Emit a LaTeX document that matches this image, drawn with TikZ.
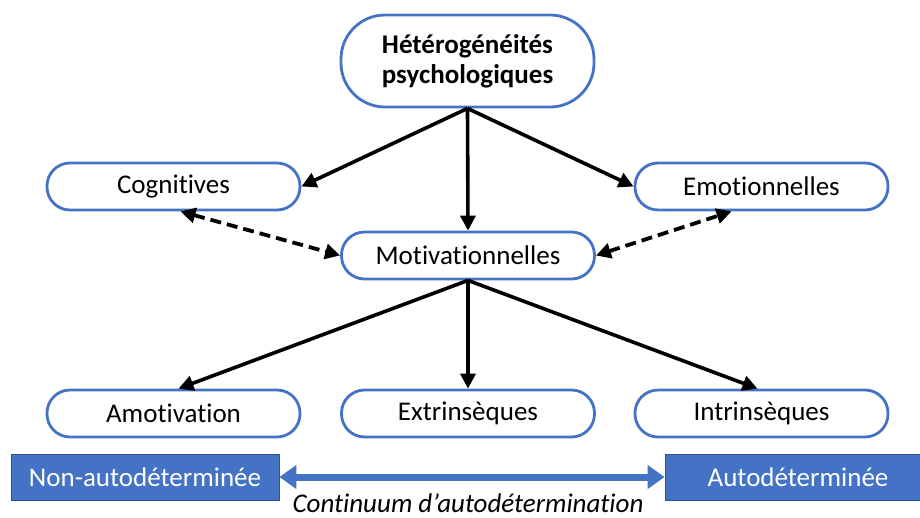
\documentclass[tikz,border=0pt]{standalone}
\usepackage{fontspec}
\setmainfont{Carlito}[Ligatures=NoCommon]
\usetikzlibrary{arrows.meta,calc}
\definecolor{cblue}{HTML}{4472C4}
\definecolor{cdark}{HTML}{2F528F}
\tikzset{
  oval/.style={draw=cblue, line width=2.8pt, fill=white, rounded corners=23pt,
    minimum width=253pt, minimum height=47pt, inner sep=0pt,
    font=\fontsize{27}{30}\selectfont},
  topoval/.style={oval, rounded corners=44pt, minimum height=92pt, align=center,
    font=\fontsize{27}{30}\selectfont\bfseries},
  bluebox/.style={draw=cdark, line width=0.8pt, fill=cblue, text=white, inner sep=0pt,
    font=\fontsize{27}{30}\selectfont},
  arr/.style={line width=3.6pt, -{Triangle[length=15pt,width=15pt]}},
  darr/.style={line width=3.8pt, dash pattern=on 11pt off 6pt,
    {Triangle[length=15pt,width=15pt]}-{Triangle[length=15pt,width=15pt]}},
  barr/.style={cblue, line width=7pt, {Triangle[length=17pt,width=23pt]}-{Triangle[length=17pt,width=23pt]}},
}
\begin{document}
\begin{tikzpicture}[x=1pt,y=-1pt]
\useasboundingbox (0,0) rectangle (920,517);
\node[topoval] (top) at (467.5,61) {Hétérogénéités\\psychologiques};
\node[oval] (cog) at (173.5,186.5) {Cognitives};
\node[oval] (emo) at (761.5,186.5) {Emotionnelles};
\node[oval] (mot) at (468,255.5) {Motivationnelles};
\node[oval] (amo) at (173.5,413.5) {Amotivation};
\node[oval] (ext) at (468,413.5) {Extrinsèques};
\node[oval] (int) at (761.5,413.5) {Intrinsèques};
\node[bluebox, minimum width=268pt, minimum height=46pt] (non) at (145,477) {Non-autodéterminée};
\node[bluebox, minimum width=260pt, minimum height=46pt] (auto) at (795,477) {\hspace*{6pt}Autodéterminée};
\node[font=\fontsize{27}{30}\selectfont\itshape, anchor=base, inner sep=0pt] (cont) at (468,512) {Continuum d’autodétermination};
\draw[arr] (top.south) -- (cog.east);
\draw[arr] (top.south) -- (emo.west);
\draw[arr] (top.south) -- (mot.north);
\draw[darr] ([xshift=7pt]cog.south) -- (mot.west);
\draw[darr] (mot.east) -- ([xshift=-30pt]emo.south);
\draw[arr] (mot.south) -- ([xshift=5pt]amo.north);
\draw[arr] (mot.south) -- (ext.north);
\draw[arr] (mot.south) -- ([xshift=-4pt]int.north);
\draw[barr] (non.east) -- (auto.west);
\end{tikzpicture}
\end{document}
